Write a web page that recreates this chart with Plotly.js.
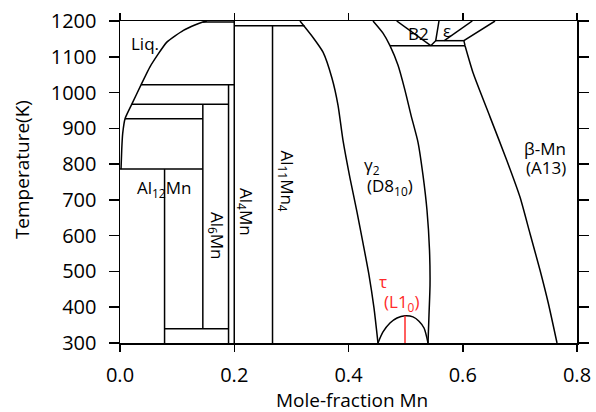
<!DOCTYPE html>
<html><head><meta charset="utf-8">
<script src="https://cdn.plot.ly/plotly-3.0.1.min.js"></script>
<style>html,body{margin:0;padding:0;background:#fff}#plot{width:596px;height:412px}</style>
</head><body><div id="plot"></div>
<script>
// Liquidus on the Al-rich side
const liqX = [0.0018, 0.003, 0.0047, 0.0088, 0.0205, 0.037, 0.0525, 0.082, 0.111, 0.131, 0.145, 0.152];
const liqT = [786, 839, 885, 927, 967, 1022, 1072, 1141, 1174, 1189, 1197, 1200];
// Left boundary of gamma2 (Al11Mn4 + gamma2 / gamma2)
const g2LeftX = [0.3151, 0.3379, 0.3554, 0.3711, 0.3816, 0.3903, 0.4026, 0.4149, 0.4254, 0.4359, 0.4446, 0.4516];
const g2LeftT = [1200, 1154, 1113, 1040, 965, 867, 761, 666, 579, 490, 398, 300];
// Right boundary of gamma2
const g2RightX = [0.4429, 0.4604, 0.4726, 0.4867, 0.4989, 0.5094, 0.5217, 0.5304, 0.5374, 0.5418, 0.5427, 0.5409, 0.5392];
const g2RightT = [1200, 1166, 1131, 1076, 1006, 937, 861, 769, 671, 560, 462, 378, 300];
// Boundary of beta-Mn
const betaX = [0.604, 0.6185, 0.6477, 0.677, 0.7002, 0.7177, 0.7352, 0.7498, 0.765];
const betaT = [1131, 1053, 932, 811, 708, 606, 504, 411, 300];
// tau (L1_0) dome
const tauX = [0.4516, 0.4604, 0.4726, 0.4849, 0.4989, 0.5129, 0.5234, 0.5322, 0.5392];
const tauT = [300, 331, 356, 370, 376, 373, 361, 342, 300];
const tauLineX = [0.4989, 0.4989];
const tauLineT = [300, 376];
// Invariant (horizontal) lines and compound (vertical) lines, segments split by null
const segX = [0.145, 0.2, null, 0.2, 0.323, null, 0.2, 0.2, null, 0.267, 0.267, null,
  0.037, 0.2, null, 0.19, 0.19, null, 0.0205, 0.19, null, 0.145, 0.145, null,
  0.0088, 0.145, null, 0, 0.145, null, 0.078, 0.078, null, 0.078, 0.19];
const segT = [1197, 1197, null, 1187, 1187, null, 1200, 300, null, 1187, 300, null,
  1022, 1022, null, 1022, 300, null, 967, 967, null, 967, 340, null,
  927, 927, null, 786, 786, null, 786, 300, null, 340, 340];
// High-temperature region (B2, epsilon)
const topX = [0.4726, 0.604, null, 0.4844, 0.544, null, 0.5584, 0.5527, 0.544, null,
  0.5527, 0.602, null, 0.6167, 0.5677, null, 0.6565, 0.602, 0.604];
const topT = [1131, 1131, null, 1200, 1131, null, 1200, 1145, 1131, null,
  1145, 1145, null, 1200, 1145, null, 1200, 1145, 1131];

const labels = [
  {x: 0.0438, y: 1138, t: 'Liq.', a: 0},
  {x: 0.077, y: 733, t: 'Al<sub>12</sub>Mn', a: 0},
  {x: 0.170, y: 599, t: 'Al<sub>6</sub>Mn', a: 90},
  {x: 0.2206, y: 666, t: 'Al<sub>4</sub>Mn', a: 90},
  {x: 0.292, y: 752, t: 'Al<sub>11</sub>Mn<sub>4</sub>', a: 90},
  {x: 0.441, y: 795, t: 'γ<sub>2</sub>', a: 0},
  {x: 0.4726, y: 738, t: '(D8<sub>10</sub>)', a: 0},
  {x: 0.5234, y: 1166, t: 'B2', a: 0},
  {x: 0.572, y: 1174, t: 'ε', a: 0},
  {x: 0.744, y: 843, t: 'β-Mn', a: 0},
  {x: 0.7457, y: 791, t: '(A13)', a: 0}
];
const redLabels = [
  {x: 0.4609, y: 471, t: 'τ'},
  {x: 0.4919, y: 412, t: '(L1<sub>0</sub>)'}
];

const FONT = '"Open Sans", "Noto Sans", sans-serif';
const ln = {color: '#000', width: 1.5};
function tr(x, y, line) { return {x: x, y: y, type: 'scatter', mode: 'lines', line: line || ln, hoverinfo: 'skip', connectgaps: false}; }

const data = [
  tr(liqX, liqT, {color: '#000', width: 1.5, shape: 'spline', smoothing: 0.5}),
  tr(g2LeftX, g2LeftT, {color: '#000', width: 1.5, shape: 'spline', smoothing: 0.6}),
  tr(g2RightX, g2RightT, {color: '#000', width: 1.5, shape: 'spline', smoothing: 0.6}),
  tr(betaX, betaT, {color: '#000', width: 1.5, shape: 'spline', smoothing: 0.6}),
  tr(tauX, tauT, {color: '#000', width: 1.5, shape: 'spline', smoothing: 0.8}),
  tr(segX, segT), tr(topX, topT),
  tr(tauLineX, tauLineT, {color: '#ff2a2a', width: 1.5})
];

const ann = labels.map(l => ({x: l.x, y: l.y, xref: 'x', yref: 'y', text: l.t, showarrow: false,
  xanchor: 'center', yanchor: 'middle',
  textangle: l.a, font: {family: FONT, size: 17, color: '#000'}}))
  .concat(redLabels.map(l => ({x: l.x, y: l.y, xref: 'x', yref: 'y', text: l.t, showarrow: false,
  xanchor: 'center', yanchor: 'middle',
  font: {family: FONT, size: 17, color: '#ff2a2a'}})))
  .concat([
    {x: 0.5075, y: -0.177, xref: 'paper', yref: 'paper', text: 'Mole-fraction Mn', showarrow: false,
     xanchor: 'center', yanchor: 'middle', font: {family: FONT, size: 19, color: '#000'}},
    {x: -0.2144, y: 0.537, xref: 'paper', yref: 'paper', text: 'Temperature(K)', showarrow: false,
     xanchor: 'center', yanchor: 'middle', textangle: -90, font: {family: FONT, size: 19, color: '#000'}}
  ]);

const layout = {
  width: 596, height: 412,
  margin: {l: 120, r: 19, t: 21, b: 69},
  paper_bgcolor: '#fff', plot_bgcolor: '#fff',
  showlegend: false,
  font: {family: FONT, size: 19, color: '#000'},
  xaxis: {range: [0, 0.8], tickvals: [0, 0.2, 0.4, 0.6, 0.8], ticktext: ['0.0', '0.2', '0.4', '0.6', '0.8'],
    showgrid: false, zeroline: false, showline: true, linecolor: '#000', linewidth: 1.5, mirror: 'ticks',
    ticks: 'outside', ticklen: 7, tickwidth: 1.5, tickcolor: '#000', ticklabelstandoff: 6,
    tickfont: {family: FONT, size: 20, color: '#000'}},
  yaxis: {range: [300, 1200], tickvals: [300, 400, 500, 600, 700, 800, 900, 1000, 1100, 1200],
    showgrid: false, zeroline: false, showline: true, linecolor: '#000', linewidth: 1.5, mirror: 'ticks',
    ticks: 'outside', ticklen: 10, tickwidth: 1.5, tickcolor: '#000', ticklabelstandoff: 8,
    tickfont: {family: FONT, size: 20, color: '#000'}},
  annotations: ann
};
Plotly.newPlot('plot', data, layout, {displayModeBar: false, staticPlot: true});
</script></body></html>
